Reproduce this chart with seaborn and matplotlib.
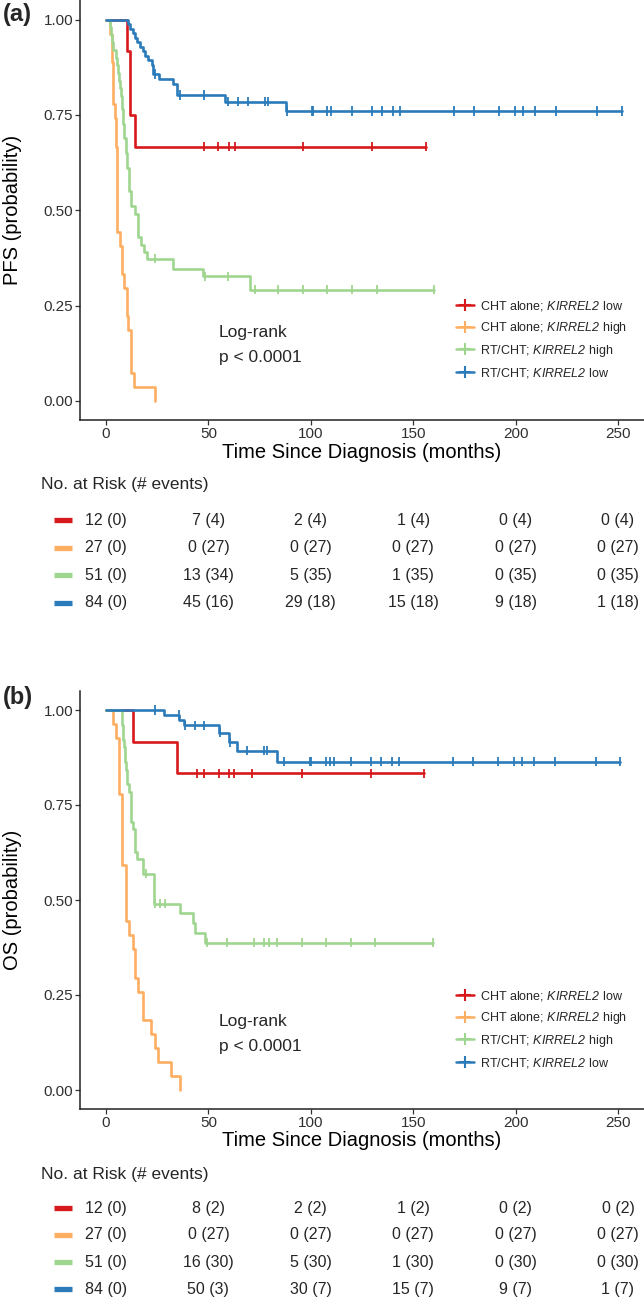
import numpy as np
import pandas as pd
import matplotlib
matplotlib.use("Agg")
import matplotlib.pyplot as plt
import matplotlib.transforms as mtransforms
from matplotlib.lines import Line2D
import seaborn as sns

# groups, colours, risk-table time points
groups = ['CHT alone; KIRREL2 low', 'CHT alone; KIRREL2 high',
          'RT/CHT; KIRREL2 high', 'RT/CHT; KIRREL2 low']
legend_labels = [r'CHT alone; $\mathrm{KIRREL2}$ low', r'CHT alone; $\mathrm{KIRREL2}$ high',
                 r'RT/CHT; $\mathrm{KIRREL2}$ high', r'RT/CHT; $\mathrm{KIRREL2}$ low']
colors = ['#d7191c', '#fdae61', '#9fd68f', '#2b7bba']
risk_times = [0, 50, 100, 150, 200, 250]

# (a) PFS - event times (months) and survival after each step
pfs_event_t = [
    [10.1, 11.7, 14.2],
    [2.0, 2.8, 3.6, 4.5, 4.9, 5.5, 6.8, 8.0, 8.9, 10.1, 10.9, 12.1, 13.7, 23.9],
    [2.0, 2.5, 2.8, 3.6, 5.0, 5.5, 6.0, 6.5, 7.0, 7.3, 7.7, 8.3, 8.9, 9.6, 10.4, 11.2, 12.0,
     14.2, 15.5, 15.8, 17.0, 18.7, 19.9, 32.9, 47.5, 70.3],
    [10.9, 11.7, 13.0, 14.2, 15.0, 16.6, 18.2, 19.0, 20.7, 22.3, 23.1, 26.0, 32.9, 34.5, 58.1, 87.9],
]
pfs_surv = [
    [0.917, 0.75, 0.667],
    [0.963, 0.889, 0.778, 0.741, 0.667, 0.444, 0.407, 0.333, 0.296, 0.222, 0.185, 0.074, 0.037, 0.0],
    [0.98, 0.96, 0.94, 0.92, 0.90, 0.88, 0.86, 0.84, 0.82, 0.80, 0.765, 0.725, 0.69, 0.65, 0.61,
     0.55, 0.51, 0.49, 0.47, 0.43, 0.41, 0.39, 0.373, 0.347, 0.327, 0.292],
    [0.988, 0.976, 0.964, 0.952, 0.940, 0.929, 0.917, 0.905, 0.893, 0.881, 0.857, 0.845, 0.831,
     0.802, 0.785, 0.760],
]
pfs_censor_t = [
    [47.9, 54.8, 60.2, 63.0, 96.0, 129.7, 156.1],
    [],
    [23.9, 48.2, 59.7, 72.8, 84.1, 96.0, 108.0, 120.0, 132.2, 160.2],
    [23.9, 36.1, 47.9, 59.7, 64.6, 69.5, 77.6, 79.3, 88.5, 100.4, 100.9, 107.8, 109.7, 120.0,
     129.7, 134.6, 140.0, 143.6, 169.9, 179.7, 191.9, 199.7, 203.7, 209.7, 219.7, 239.9, 251.8],
]
pfs_at_risk = [[12, 7, 2, 1, 0, 0], [27, 0, 0, 0, 0, 0], [51, 13, 5, 1, 0, 0], [84, 45, 29, 15, 9, 1]]
pfs_events = [[0, 4, 4, 4, 4, 4], [0, 27, 27, 27, 27, 27], [0, 34, 35, 35, 35, 35], [0, 16, 18, 18, 18, 18]]

# (b) OS
os_event_t = [
    [13.4, 34.6],
    [3.6, 4.9, 6.2, 8.0, 9.9, 11.1, 13.1, 14.2, 15.8, 18.3, 22.0, 24.0, 25.6, 31.6, 36.1],
    [7.7, 7.9, 8.1, 8.3, 8.8, 9.5, 10.0, 10.4, 11.4, 12.1, 13.1, 14.2, 15.0, 18.3, 23.5,
     36.3, 42.5, 43.6, 48.5],
    [28.1, 35.8, 37.9, 55.0, 60.0, 64.0, 83.7],
]
os_surv = [
    [0.917, 0.833],
    [0.963, 0.926, 0.778, 0.593, 0.444, 0.407, 0.370, 0.296, 0.259, 0.185, 0.148, 0.111, 0.074, 0.037, 0.0],
    [0.980, 0.961, 0.941, 0.922, 0.902, 0.863, 0.843, 0.804, 0.784, 0.706, 0.686, 0.627, 0.608,
     0.569, 0.490, 0.465, 0.440, 0.414, 0.388],
    [0.988, 0.975, 0.960, 0.940, 0.915, 0.893, 0.864],
]
os_censor_t = [
    [44.4, 47.7, 55.0, 60.0, 62.4, 71.4, 95.9, 129.4, 155.5],
    [],
    [19.5, 24.0, 26.5, 28.9, 49.2, 59.2, 72.2, 77.1, 79.6, 83.3, 95.9, 107.4, 119.6, 131.4, 159.7],
    [23.7, 35.4, 38.7, 43.6, 47.7, 55.5, 60.5, 69.0, 77.1, 78.8, 86.9, 99.7, 100.3, 107.4, 109.5,
     111.4, 119.6, 129.4, 134.3, 139.6, 143.3, 169.5, 179.3, 191.2, 199.2, 203.3, 209.2, 219.3,
     239.2, 251.1],
]
os_at_risk = [[12, 8, 2, 1, 0, 0], [27, 0, 0, 0, 0, 0], [51, 16, 5, 1, 0, 0], [84, 50, 30, 15, 9, 1]]
os_events = [[0, 2, 2, 2, 2, 2], [0, 27, 27, 27, 27, 27], [0, 30, 30, 30, 30, 30], [0, 3, 7, 7, 7, 7]]


def build_frames(event_t, surv, censor_t):
    """step vertices + censor marks as long data frames"""
    lines, marks = [], []
    for g, et, sv, ct in zip(groups, event_t, surv, censor_t):
        end = max([et[-1]] + ct)
        levels = [1.0] + sv
        for t, s in zip([0.0] + et + [end], levels + [sv[-1]]):
            lines.append((g, t, s))
        for c in ct:
            idx = np.searchsorted(et, c, side='right')
            marks.append((g, c, levels[idx]))
    cols = ['group', 'time', 'surv']
    return pd.DataFrame(lines, columns=cols), pd.DataFrame(marks, columns=cols)


W, H = 644, 1300
sns.set_theme(style='ticks')
plt.rcParams['font.family'] = ['Liberation Sans', 'DejaVu Sans']
#  gene name is set italic through mathtext (digits included)
plt.rcParams['mathtext.fontset'] = 'custom'
plt.rcParams['mathtext.rm'] = 'Liberation Sans:italic'

fig = plt.figure(figsize=(W / 100, H / 100), dpi=100)

panels = [
    dict(tag='(a)', ylabel='PFS (probability)', top=0.5, bottom=420, tag_y=15,
         data=(pfs_event_t, pfs_surv, pfs_censor_t), risk=(pfs_at_risk, pfs_events),
         leg_top=299, risk_title=485, risk_rows=[520, 547.7, 575.3, 602.7], xlab=453),
    dict(tag='(b)', ylabel='OS (probability)', top=691, bottom=1109, tag_y=697,
         data=(os_event_t, os_surv, os_censor_t), risk=(os_at_risk, os_events),
         leg_top=989, risk_title=1174, risk_rows=[1208.3, 1235, 1262.3, 1289.3], xlab=1140),
]

for p in panels:
    left = 80
    ax = fig.add_axes([left / W, 1 - p['bottom'] / H, (W - left) / W, (p['bottom'] - p['top']) / H])
    lines, marks = build_frames(*p['data'])
    sns.lineplot(data=lines, x='time', y='surv', hue='group', hue_order=groups, palette=colors,
                 estimator=None, sort=False, drawstyle='steps-post', linewidth=1.9,
                 legend=False, ax=ax)
    sns.scatterplot(data=marks, x='time', y='surv', hue='group', hue_order=groups, palette=colors,
                    marker='|', s=45, linewidth=1.3, legend=False, ax=ax, zorder=3)

    ax.set_xlim(-12.7, 262.7)
    ax.set_ylim(-0.05, 1.05)
    ax.set_xticks(risk_times)
    ax.set_yticks([0, 0.25, 0.5, 0.75, 1.0])
    ax.set_yticklabels(['0.00', '0.25', '0.50', '0.75', '1.00'])
    sns.despine(ax=ax)
    for s in ['left', 'bottom']:
        ax.spines[s].set_linewidth(1.1)
        ax.spines[s].set_color('#222222')
    ax.tick_params(length=3.5, width=0.9, color='#333333', labelcolor='#303030',
                   labelsize=11, pad=1.5)
    ax.set_xlabel('Time Since Diagnosis (months)', fontsize=14.5, color='black')
    ax.set_ylabel(p['ylabel'], fontsize=14.5, color='black')
    axh = p['bottom'] - p['top']
    ax.xaxis.set_label_coords(0.5, -(p['xlab'] - p['bottom']) / axh)
    ax.xaxis.label.set_va('center')
    ax.yaxis.set_label_coords((13 - left) / (W - left), 0.5)
    ax.yaxis.label.set_va('center')

    ax.text(55, 0.18, 'Log-rank', fontsize=12.5, va='center', ha='left')
    ax.text(55, 0.115, 'p < 0.0001', fontsize=12.5, va='center', ha='left')

    handles = [Line2D([], [], color=c, lw=1.8, marker='+', ms=8, mew=1.5) for c in colors]
    ax.legend(handles, legend_labels, loc='upper left', bbox_to_anchor=(456 / W, 1 - p['leg_top'] / H),
              bbox_transform=fig.transFigure, frameon=False, fontsize=9, handlelength=1.4,
              handletextpad=0.5, labelspacing=0.55, borderpad=0, borderaxespad=0)

    fig.text(3 / W, 1 - p['tag_y'] / H, p['tag'], fontsize=17, fontweight='bold', va='center')

    # risk table
    tr = mtransforms.blended_transform_factory(ax.transData, fig.transFigure)
    fig.text(41 / W, 1 - p['risk_title'] / H, 'No. at Risk (# events)', fontsize=12.5, va='center')
    at_risk, events = p['risk']
    for i, (row_y, c) in enumerate(zip(p['risk_rows'], colors)):
        y = 1 - row_y / H
        fig.add_artist(Line2D([54 / W, 72 / W], [y, y], transform=fig.transFigure, color=c,
                              lw=3.8, solid_capstyle='butt'))
        for t, n, e in zip(risk_times, at_risk[i], events[i]):
            ax.text(t, y, f'{n} ({e})', transform=tr, fontsize=11.5, ha='center', va='center',
                    clip_on=False)

fig.savefig('out.png', dpi=100)
